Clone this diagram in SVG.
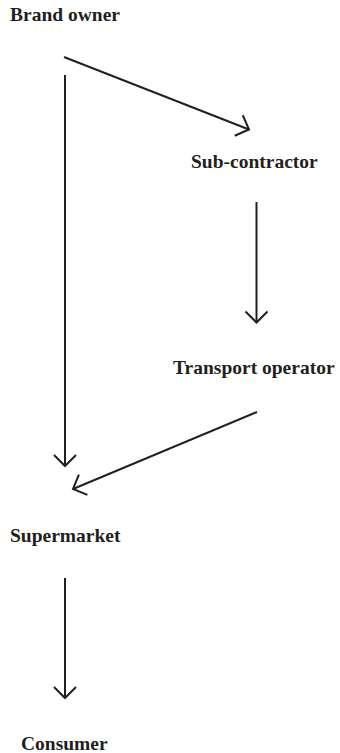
<svg xmlns="http://www.w3.org/2000/svg" width="340" height="753" viewBox="0 0 340 753">
<style>
.lbl{font-family:"Liberation Serif","Times New Roman",serif;font-weight:bold;font-size:19.5px;fill:#231f20}
.con{stroke:#231f20;stroke-width:2;fill:none;marker-end:url(#chev)}
</style>
<defs>
<marker id="chev" markerUnits="userSpaceOnUse" markerWidth="30" markerHeight="30" viewBox="-15 -15 30 30" refX="0" refY="0" orient="auto" overflow="visible">
<path d="M-11,-11 L0,0 L-11,11" fill="none" stroke="#231f20" stroke-width="2" stroke-linejoin="miter"/>
</marker>
</defs>
<rect width="340" height="753" fill="#ffffff"/>
<g id="connectors">
<line class="con" x1="64" y1="57" x2="249" y2="129.5"/>
<line class="con" x1="65" y1="75" x2="65" y2="466"/>
<line class="con" x1="256.5" y1="202" x2="256.5" y2="322.5"/>
<line class="con" x1="257" y1="412" x2="73" y2="489"/>
<line class="con" x1="65" y1="578" x2="65" y2="698"/>
</g>
<g id="brand-owner"><text class="lbl" x="10" y="21">Brand owner</text></g>
<g id="sub-contractor"><text class="lbl" x="191" y="168">Sub-contractor</text></g>
<g id="transport-operator"><text class="lbl" x="173" y="374">Transport operator</text></g>
<g id="supermarket"><text class="lbl" x="10" y="542">Supermarket</text></g>
<g id="consumer"><text class="lbl" x="21" y="750">Consumer</text></g>
</svg>
